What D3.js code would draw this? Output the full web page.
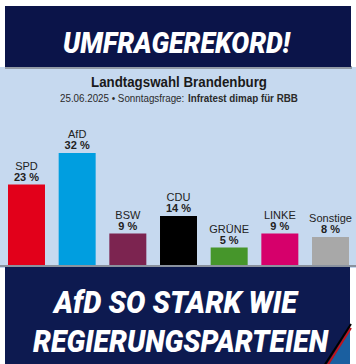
<!DOCTYPE html>
<html><head><meta charset="utf-8">
<script src="https://cdn.jsdelivr.net/npm/d3@7/dist/d3.min.js"></script>
<style>html,body{margin:0;padding:0;background:#fff;}svg{display:block;}</style>
</head><body>
<script>
const parties = ["SPD","AfD","BSW","CDU","GRÜNE","LINKE","Sonstige"];
const values = [23,32,9,14,5,9,8];
const colors = ["#e2001a","#009ee0","#7c2450","#000000","#46962b","#d6006b","#a8a8a8"];
const valueLabels = ["23 %","32 %","9 %","14 %","5 %","9 %","8 %"];
const headline = "UMFRAGEREKORD!";
const bottomLines = ["AfD SO STARK WIE","REGIERUNGSPARTEIEN"];
const chartTitle = "Landtagswahl Brandenburg";
const subtitleA = "25.06.2025 • Sonntagsfrage:";
const subtitleB = "Infratest dimap für RBB";

const W = 356, H = 364;
const svg = d3.select("body").append("svg").attr("width", W).attr("height", H);

// background
svg.append("rect").attr("width", W).attr("height", H).attr("fill", "#ffffff");
// light blue panel
svg.append("rect").attr("x", 0).attr("y", 67).attr("width", W).attr("height", 201).attr("fill", "#c6d9ef");

// top navy box + shadow
svg.append("rect").attr("x", 5).attr("y", 66).attr("width", 347).attr("height", 3).attr("fill", "#7d8088").attr("opacity", 0.7);
svg.append("rect").attr("x", 5).attr("y", 6).attr("width", 346).attr("height", 61).attr("fill", "#0b1449");

svg.append("text").attr("x", 63).attr("y", 53)
  .attr("textLength", 227).attr("lengthAdjust", "spacingAndGlyphs")
  .style("font-family", "Roboto, 'DejaVu Sans Condensed', sans-serif")
  .style("font-weight", 900).style("font-style", "italic").style("font-size", "30px")
  .attr("fill", "#ffffff").text(headline);

// chart title
svg.append("text").attr("x", 179).attr("y", 87).attr("text-anchor", "middle")
  .attr("textLength", 176).attr("lengthAdjust", "spacingAndGlyphs")
  .style("font-family", "'Liberation Sans', Arial, sans-serif").style("font-weight", "bold").style("font-size", "14.5px")
  .attr("fill", "#1a1a1a").text(chartTitle);

// subtitle: two separate texts placed side by side, horizontally fitted
const subFont = "'Liberation Sans', Arial, sans-serif";
const subG = svg.append("g");
const tA = subG.append("text").attr("x", 0).attr("y", 0)
  .style("font-family", subFont).style("font-size", "11px").attr("fill", "#2a2a2a").text(subtitleA);
const wA = tA.node().getComputedTextLength();
const tB = subG.append("text").attr("x", wA + 4).attr("y", 0)
  .style("font-family", subFont).style("font-size", "11px").style("font-weight", "bold")
  .attr("fill", "#2a2a2a").text(subtitleB);
const total = wA + 4 + tB.node().getComputedTextLength();
subG.attr("transform", `translate(60,102) scale(${238 / total},1)`);

// scales
const x = d3.scaleBand().domain(parties).range([8, 349]).paddingInner(0.27).paddingOuter(0);
const y = d3.scaleLinear().domain([0, 32]).range([265, 153]);

const g = svg.append("g");
g.selectAll("rect.bar").data(parties).join("rect").attr("class", "bar")
  .attr("x", d => x(d)).attr("width", x.bandwidth())
  .attr("y", (d, i) => y(values[i])).attr("height", (d, i) => y(0) - y(values[i]))
  .attr("fill", (d, i) => colors[i]);

g.selectAll("text.name").data(parties).join("text").attr("class", "name")
  .attr("x", d => x(d) + x.bandwidth() / 2).attr("y", (d, i) => y(values[i]) - 15)
  .attr("text-anchor", "middle")
  .style("font-family", "'Liberation Sans', Arial, sans-serif").style("font-size", "11px")
  .attr("fill", "#222").text(d => d);
g.selectAll("text.val").data(parties).join("text").attr("class", "val")
  .attr("x", d => x(d) + x.bandwidth() / 2).attr("y", (d, i) => y(values[i]) - 4)
  .attr("text-anchor", "middle")
  .style("font-family", "'Liberation Sans', Arial, sans-serif").style("font-size", "11px").style("font-weight", "bold")
  .attr("fill", "#222").text((d, i) => valueLabels[i]);

// baseline shadow
svg.append("rect").attr("x", 0).attr("y", 265).attr("width", W).attr("height", 2).attr("fill", "#8a929e");

// bottom navy box
svg.append("rect").attr("x", 5).attr("y", 267).attr("width", 345).attr("height", 97).attr("fill", "#0d1a50");
// corner flag stripes
svg.append("polygon").attr("points", "350,330 350,364 329,364").attr("fill", "#1a5fa0");
svg.append("line").attr("x1", 351).attr("y1", 324).attr("x2", 324).attr("y2", 366).attr("stroke", "#000").attr("stroke-width", 2);
svg.append("line").attr("x1", 351).attr("y1", 328).attr("x2", 327).attr("y2", 366).attr("stroke", "#c0141c").attr("stroke-width", 2);

const bl = [{t: bottomLines[0], x: 54, y: 313, w: 243}, {t: bottomLines[1], x: 33, y: 352, w: 295}];
svg.selectAll("text.bl").data(bl).join("text").attr("class", "bl")
  .attr("x", d => d.x).attr("y", d => d.y)
  .attr("textLength", d => d.w).attr("lengthAdjust", "spacingAndGlyphs")
  .style("font-family", "Roboto, 'DejaVu Sans Condensed', sans-serif")
  .style("font-weight", 900).style("font-style", "italic").style("font-size", "31px")
  .attr("fill", "#ffffff").text(d => d.t);
</script>
</body></html>
